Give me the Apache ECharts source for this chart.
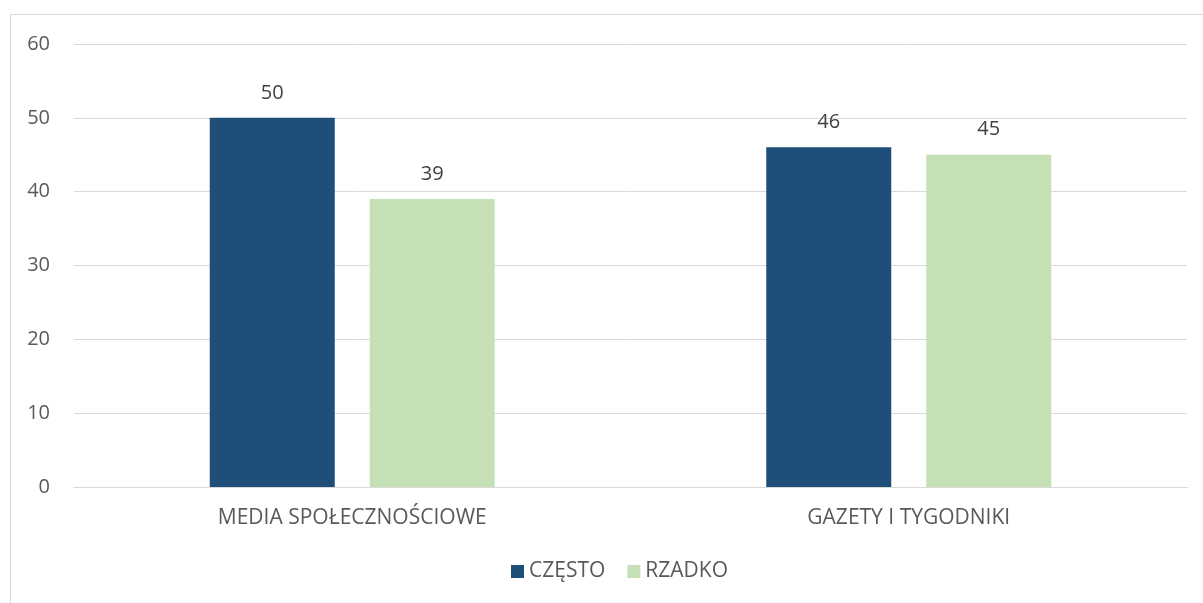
<!DOCTYPE html>
<html>
<head>
<meta charset="utf-8">
<script src="https://cdn.jsdelivr.net/npm/echarts@6/dist/echarts.min.js"></script>
<style>
  html, body { margin: 0; padding: 0; background: #fff; }
  #chart { width: 1203px; height: 603px; }
</style>
</head>
<body>
<div id="chart"></div>
<script>
// Chart data
const categories = ['MEDIA SPOŁECZNOŚCIOWE', 'GAZETY I TYGODNIKI'];
const seriesNames = ['CZĘSTO', 'RZADKO'];
const czesto = [50, 46];
const rzadko = [39, 45];
const yTicks = { min: 0, max: 60, interval: 10 };

const textColor = '#595959';
const fontFamily = 'Open Sans, Lato, sans-serif';

const chart = echarts.init(document.getElementById('chart'), null, { renderer: 'canvas' });

const labelStyle = {
  show: true,
  position: 'top',
  distance: 15,
  color: '#404040',
  fontSize: 20,
  fontFamily: fontFamily
};

chart.setOption({
  animation: false,
  backgroundColor: '#ffffff',
  graphic: [{
    type: 'rect',
    shape: { x: 10.5, y: 14.5, width: 1210, height: 610 },
    style: { fill: 'none', stroke: '#d9d9d9', lineWidth: 1 },
    silent: true
  }],
  grid: { left: 74, right: 16, top: 44, bottom: 116, containLabel: false },
  legend: {
    data: seriesNames,
    bottom: 16,
    left: 506,
    itemWidth: 13,
    itemHeight: 13,
    itemGap: 22,
    icon: 'rect',
    textStyle: { color: textColor, fontSize: 21, fontFamily: fontFamily, padding: [0, 0, 0, 0] }
  },
  xAxis: {
    type: 'category',
    data: categories,
    axisLine: { show: true, lineStyle: { color: '#d9d9d9', width: 1 } },
    axisTick: { show: false },
    axisLabel: { color: textColor, fontSize: 21, fontFamily: fontFamily, margin: 21 }
  },
  yAxis: {
    type: 'value',
    min: yTicks.min,
    max: yTicks.max,
    interval: yTicks.interval,
    axisLine: { show: false },
    axisTick: { show: false },
    splitLine: { lineStyle: { color: '#d9d9d9', width: 1 } },
    axisLabel: { color: textColor, fontSize: 20, fontFamily: fontFamily, margin: 24 }
  },
  series: [
    {
      name: seriesNames[0],
      type: 'bar',
      data: czesto,
      barWidth: 125,
      barGap: '28%',
      itemStyle: { color: '#1f4e79' },
      label: labelStyle
    },
    {
      name: seriesNames[1],
      type: 'bar',
      data: rzadko,
      barWidth: 125,
      itemStyle: { color: '#c5e0b4' },
      label: labelStyle
    }
  ]
});
</script>
</body>
</html>
